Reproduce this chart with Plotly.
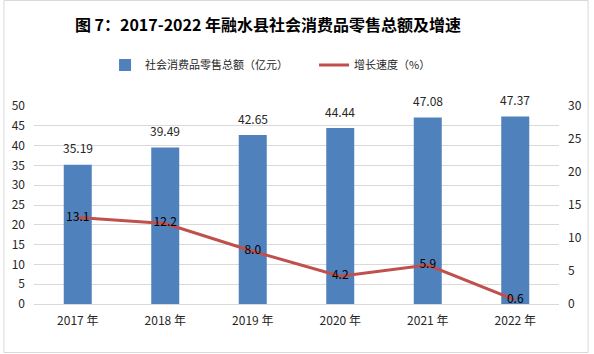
import plotly.graph_objects as go

categories = ["2017 年", "2018 年", "2019 年", "2020 年", "2021 年", "2022 年"]
sales = [35.19, 39.49, 42.65, 44.44, 47.08, 47.37]
growth = [13.1, 12.2, 8.0, 4.2, 5.9, 0.6]

FONT = "Noto Sans CJK SC"
W, H = 594, 354
ml, mr, mt, mb = 31, 31, 106, 50
pw = W - ml - mr
ph = H - mt - mb

fig = go.Figure()
fig.add_trace(go.Bar(
    x=categories, y=sales, name="社会消费品零售总额（亿元）",
    marker=dict(color="#4F81BD", line=dict(width=0)),
    width=0.32,
))
fig.add_trace(go.Scatter(
    x=categories, y=growth, name="增长速度（%）", yaxis="y2",
    mode="lines+text", line=dict(color="#C0504D", width=3),
    text=[f"{v:.1f}" for v in growth], textposition="middle center",
    textfont=dict(family=FONT, size=12, color="#000000"),
    cliponaxis=False,
))

annotations = [dict(x=c, y=v, xref="x", yref="y", text=f"{v:.2f}",
                    showarrow=False, yshift=17, yanchor="middle",
                    font=dict(family=FONT, size=12, color="#262626"))
               for c, v in zip(categories, sales)]

fig.update_layout(
    width=W, height=H,
    margin=dict(l=ml, r=mr, t=mt, b=mb),
    paper_bgcolor="white", plot_bgcolor="white",
    font=dict(family=FONT, size=12, color="#262626"),
    title=dict(text="<b>图 7：2017-2022 年融水县社会消费品零售总额及增速</b>",
               x=268 / W, xanchor="center", y=1 - 25 / H, yanchor="middle",
               font=dict(family=FONT, size=16, color="#000000")),
    legend=dict(orientation="h", x=(103 - ml) / pw, xanchor="left",
                y=1 + (mt - 65) / ph, yanchor="middle",
                font=dict(family=FONT, size=11, color="#262626"),
                entrywidth=164, entrywidthmode="pixels",
                itemwidth=30, bgcolor="rgba(0,0,0,0)"),
    annotations=annotations,
    xaxis=dict(showgrid=False, showline=True, linecolor="#D9D9D9", linewidth=1,
               ticks="", ticklabelstandoff=6,
               tickfont=dict(size=12, color="#262626")),
    yaxis=dict(range=[0, 50], dtick=5, showgrid=True, gridcolor="#D9D9D9",
               gridwidth=1, zeroline=False, ticks="", ticklabelstandoff=8,
               tickfont=dict(size=12, color="#262626")),
    yaxis2=dict(range=[0, 30], dtick=5, overlaying="y", side="right",
                showgrid=False, zeroline=False, ticks="", ticklabelstandoff=8,
                tickfont=dict(size=12, color="#262626")),
    shapes=[dict(type="rect", xref="paper", yref="paper",
                 x0=-(ml - 0.5) / pw, x1=1 + (mr - 1.5) / pw,
                 y0=-(mb - 1.5) / ph, y1=1 + (mt - 0.5) / ph,
                 line=dict(color="#D9D9D9", width=1), layer="below")],
)

fig.write_html("out.html")
